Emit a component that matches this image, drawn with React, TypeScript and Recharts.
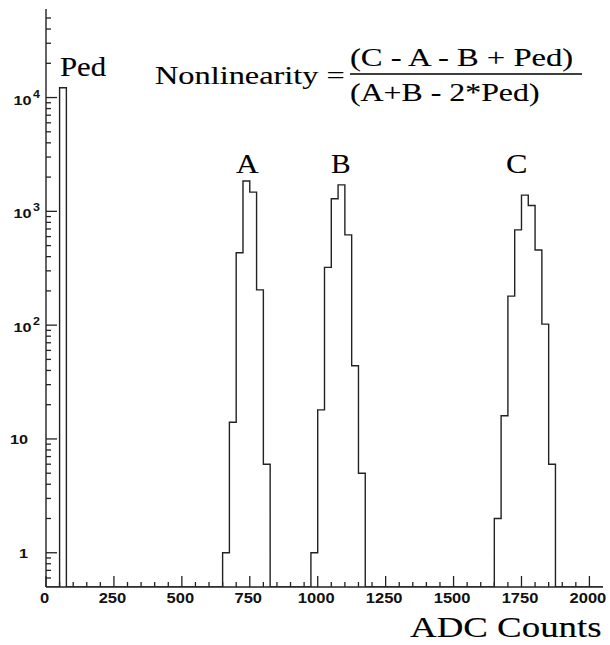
import React from 'react';
import { LineChart, Line, XAxis, YAxis } from 'recharts';

// histogram binning (ADC counts)
const BIN_WIDTH = 25;
const X_MAX = 2050;
const Y_MIN = 0.5;
const Y_MAX = 60000;

// entries per bin, each list starts at the given lower bin edge
const pedStart = 50;
const pedCounts = [12200];
const peakAStart = 650;
const peakACounts = [1, 14, 433, 1846, 1477, 204, 6];
const peakBStart = 975;
const peakBCounts = [1, 18, 322, 1289, 1710, 621, 44, 5];
const peakCStart = 1650;
const peakCCounts = [2, 16, 180, 687, 1390, 1125, 458, 102, 6];

const xMajorTicks = [0, 250, 500, 750, 1000, 1250, 1500, 1750, 2000];
const X_MINOR_STEP = 50;
const yDecades = [0.1, 1, 10, 100, 1000, 10000];
const yLabelDecades = [1, 10, 100, 1000, 10000];

const LINE = '#222';
const TICK_FONT = '"Liberation Sans", Arial, sans-serif';
const TEXT_FONT = '"Liberation Serif", "Times New Roman", serif';

// build the step table: empty bins sit on the axis floor
const countAt = new Map<number, number>();
const peaks: [number, number[]][] = [
  [pedStart, pedCounts],
  [peakAStart, peakACounts],
  [peakBStart, peakBCounts],
  [peakCStart, peakCCounts],
];
peaks.forEach(([start, counts]) =>
  counts.forEach((c, i) => countAt.set(start + i * BIN_WIDTH, c))
);
const histData: { adc: number; counts: number }[] = [];
for (let x = 0; x < X_MAX; x += BIN_WIDTH) {
  histData.push({ adc: x, counts: countAt.get(x) ?? Y_MIN });
}
histData.push({ adc: X_MAX, counts: Y_MIN });

const xTicks: number[] = [];
for (let x = 0; x <= 2000; x += X_MINOR_STEP) xTicks.push(x);

const yTicks: number[] = [];
yDecades.forEach((d) => {
  for (let m = 1; m <= 9; m++) {
    const v = d * m;
    if (v > Y_MIN && v < Y_MAX) yTicks.push(v);
  }
});

const tickText = {
  fontFamily: TICK_FONT,
  fontWeight: 'bold' as const,
  fill: '#111',
};

const XTick = (props: any) => {
  const { x, y, payload } = props;
  const major = xMajorTicks.includes(payload.value);
  return (
    <g>
      <line x1={x} x2={x} y1={y} y2={y - (major ? 11 : 5)} stroke={LINE} strokeWidth={1.3} />
      {major && (
        <text
          {...tickText}
          transform={`translate(${x - 1.5},${y + 16}) scale(1.18,1)`}
          textAnchor="middle"
          fontSize={14}
        >
          {payload.value}
        </text>
      )}
    </g>
  );
};

const YTick = (props: any) => {
  const { x, y, payload } = props;
  const v = payload.value;
  const major = yLabelDecades.some((d) => Math.abs(v - d) < 1e-6 * d);
  let label = null;
  if (major) {
    const exp = Math.round(Math.log10(v));
    if (exp < 2) {
      label = (
        <text {...tickText} transform={`translate(${x - 18},${y + 5}) scale(1.25,1)`} textAnchor="end" fontSize={13}>
          {v}
        </text>
      );
    } else {
      label = (
        <g>
          <text {...tickText} transform={`translate(${x - 14.5},${y + 7}) scale(1.25,1)`} textAnchor="end" fontSize={13}>
            10
          </text>
          <text {...tickText} transform={`translate(${x - 13},${y}) scale(1.25,1)`} textAnchor="start" fontSize={10}>
            {exp}
          </text>
        </g>
      );
    }
  }
  return (
    <g>
      <line x1={x} x2={x + (major ? 11 : 5)} y1={y} y2={y} stroke={LINE} strokeWidth={1.3} />
      {label}
    </g>
  );
};

// serif annotation, widened like the original X11 fonts
const Note = ({ x, y, size, sx, children }: any) => (
  <text
    transform={`translate(${x},${y}) scale(${sx},1)`}
    fontFamily={TEXT_FONT}
    fontSize={size}
    fill="#000"
    stroke="#000"
    strokeWidth={0.12}
  >
    {children}
  </text>
);

export default function App() {
  return (
    <div style={{ position: 'relative', width: 610, height: 645, background: '#fff' }}>
      <style>{'body{margin:0}'}</style>
      <LineChart
        width={610}
        height={645}
        data={histData}
        margin={{ top: 9, right: 7, left: 0, bottom: 0 }}
      >
        <XAxis
          dataKey="adc"
          type="number"
          domain={[0, X_MAX]}
          allowDataOverflow
          ticks={xTicks}
          interval={0}
          height={58}
          tickSize={0}
          tickMargin={0}
          tickLine={false}
          tick={<XTick />}
          axisLine={{ stroke: LINE, strokeWidth: 1.4 }}
        />
        <XAxis
          xAxisId="top"
          orientation="top"
          dataKey="adc"
          type="number"
          domain={[0, X_MAX]}
          height={0}
          tick={false}
          tickLine={false}
          axisLine={{ stroke: LINE, strokeWidth: 1.4 }}
        />
        <YAxis
          type="number"
          scale="log"
          domain={[Y_MIN, Y_MAX]}
          allowDataOverflow
          ticks={yTicks}
          interval={0}
          width={46}
          tickSize={0}
          tickMargin={0}
          tickLine={false}
          tick={<YTick />}
          axisLine={{ stroke: LINE, strokeWidth: 1.4 }}
        />
        <YAxis
          yAxisId="right"
          orientation="right"
          type="number"
          scale="log"
          domain={[Y_MIN, Y_MAX]}
          width={0}
          tick={false}
          tickLine={false}
          axisLine={{ stroke: LINE, strokeWidth: 1.4 }}
        />
        <Line
          type="stepAfter"
          dataKey="counts"
          stroke={LINE}
          strokeWidth={1.4}
          dot={false}
          isAnimationActive={false}
        />
      </LineChart>
      <svg
        width={610}
        height={645}
        style={{ position: 'absolute', left: 0, top: 0, pointerEvents: 'none' }}
      >
        <Note x={60} y={76} size={28} sx={1.1}>Ped</Note>
        <Note x={236} y={173} size={28} sx={1.12}>A</Note>
        <Note x={331} y={173} size={28} sx={1.05}>B</Note>
        <Note x={506} y={173} size={28} sx={1.15}>C</Note>
        <Note x={155} y={84} size={26} sx={1.245}>Nonlinearity =</Note>
        <Note x={350} y={66} size={26} sx={1.255}>(C - A - B + Ped)</Note>
        <line x1={350} x2={582} y1={74} y2={74} stroke="#000" strokeWidth={1.3} />
        <Note x={350} y={101} size={26} sx={1.225}>(A+B - 2*Ped)</Note>
        <Note x={410} y={637} size={30} sx={1.23}>ADC Counts</Note>
      </svg>
    </div>
  );
}
